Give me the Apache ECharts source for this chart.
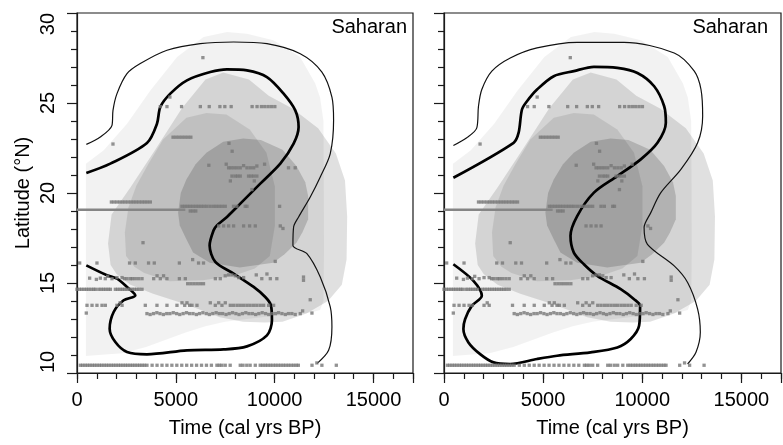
<!DOCTYPE html>
<html><head><meta charset="utf-8">
<script src="https://cdn.jsdelivr.net/npm/echarts@6/dist/echarts.min.js"></script>
<style>html,body{margin:0;padding:0;background:#fff}#c{width:783px;height:445px}</style>
</head><body><div id="c"></div>
<script>
// ---------- axis / text ----------
const xTicksMajor = [0, 5000, 10000, 15000];
const yTicksMajor = [10, 15, 20, 25, 30];
const panelLabel = 'Saharan';
const xTitle = 'Time (cal yrs BP)';
const yTitle = 'Latitude (°N)';

// ---------- density shading (shared by both panels) ----------
const densityOuter = [[450,10.95],[2300,11.1],[3500,11.45],[4500,11.85],[5500,12.25],[6500,12.6],[7500,12.85],[8600,13.0],[9800,13.15],[10800,13.25],[11800,13.35],[12300,13.5],[12470,14.0],[12500,16.8],[12490,20.0],[12470,24.0],[12300,25.3],[12050,26.1],[11290,27.55],[9940,28.48],[8600,28.85],[7590,28.94],[6400,28.67],[5060,27.56],[3710,25.7],[2530,23.85],[1350,22.37],[450,21.63]];
const densityWide = [[1570,17.2],[1700,16.0],[2000,15.5],[2700,14.9],[3848,14.4],[5534,13.8],[7224,13.1],[8400,12.85],[9500,12.8],[10400,12.85],[11610,13.3],[12700,14.0],[13400,14.9],[13640,16.3],[13670,18.7],[13560,20.7],[13100,22.2],[12200,23.6],[10900,24.7],[9700,25.4],[8700,26.3],[7400,26.7],[6500,26.3],[5300,24.7],[3900,22.3],[2700,20.3],[1750,18.8]];
const densityMid = [[2420,17.8],[2480,16.5],[2900,15.9],[3400,15.55],[4690,15.1],[6380,15.15],[7924,15.4],[9000,15.8],[9755,16.5],[10010,18.16],[10010,20.38],[9586,22.24],[8742,23.53],[7560,24.36],[6547,24.45],[5534,24.18],[4354,22.97],[3600,21.6],[3000,20.4],[2600,19.2]];
const densityCore = [[5114,18.9],[5250,20.0],[5534,20.75],[6000,21.6],[6547,22.24],[7400,22.85],[8405,23.03],[9300,22.95],[10400,22.4],[11103,21.5],[11550,20.6],[11695,19.83],[11695,18.54],[11400,17.8],[11103,17.24],[10500,16.6],[9923,16.13],[8237,15.86],[6718,16.13],[5873,16.7],[5534,17.43],[5200,18.2]];

// ---------- contour lines ----------
const leftThick = [[472,15.98],[1517,15.43],[2023,15.24],[2529,14.78],[2950,14.31],[2360,14.04],[1855,13.39],[1652,12.46],[1939,11.72],[2529,11.17],[3540,11.04],[5564,11.26],[7418,11.31],[8599,11.48],[9610,12.09],[9863,12.93],[9813,13.76],[9526,14.22],[8936,14.78],[7924,15.52],[6997,16.17],[6710,17.09],[6913,17.93],[7081,18.2],[7587,18.67],[8262,19.41],[9273,20.52],[10285,21.63],[10959,22.74],[11212,23.67],[11043,24.59],[10453,25.52],[9610,26.44],[8599,26.81],[7587,26.87],[6744,26.72],[5564,26.26],[4721,25.52],[4215,24.78],[4046,23.85],[3540,22.78],[1686,21.63],[472,21.11]];
const leftThin = [[472,22.7],[1180,23.11],[1770,23.76],[1821,24.59],[2023,25.52],[2529,26.63],[3203,27.19],[4552,27.93],[6238,28.3],[7924,28.39],[9610,28.3],[11296,27.74],[12392,26.72],[12898,25.33],[12982,24.04],[12814,22.19],[12308,20.89],[11802,19.78],[11212,18.67],[10959,18.11],[10925,17.09],[11633,16.63],[12308,15.33],[12814,13.67],[12898,12.56],[12730,11.26],[12140,10.52]];
const rightThick = [[473,16.04],[1485,15.12],[1907,14.29],[1401,13.73],[1063,12.99],[979,12.44],[1232,11.7],[1823,11.05],[2498,10.59],[3342,10.5],[4693,10.78],[5705,10.96],[7393,11.15],[8744,11.42],[9419,11.89],[9841,12.62],[9892,13.73],[9588,14.1],[8913,14.66],[7731,15.4],[7056,16.04],[6549,16.69],[6381,17.62],[6718,18.72],[7562,20.02],[8744,20.94],[9925,21.87],[10769,22.79],[11191,23.9],[11107,24.82],[10601,25.93],[9757,26.67],[8744,26.95],[7562,27.01],[6549,26.77],[5537,26.49],[4693,25.75],[4186,25.1],[3933,24.64],[3764,23.35],[3511,22.79],[473,20.85]];
const rightThin = [[473,22.64],[1148,23.07],[1654,23.62],[1739,24.82],[1907,25.75],[2414,26.77],[3342,27.5],[4693,28.06],[6718,28.37],[9081,28.37],[11613,27.78],[12626,26.77],[12964,25.75],[13048,24.27],[12795,22.79],[11951,21.31],[10938,20.02],[10432,18.91],[10094,18.08],[10263,17.15],[11613,15.95],[12289,15.03],[12795,13.55],[12930,12.26],[12711,11.15],[12289,10.5]];

// ---------- site records ----------
const rangeLine = [[0,19.07],[5480,19.07]];
const sitesNorth = [[6370,27.52],[4700,25.33],[4215,24.8],[4552,24.8],[5290,24.8],[6240,24.8],[6690,24.8],[7230,24.8],[7480,24.8],[7800,24.8],[8860,24.8],[9110,24.8],[9330,24.8],[9500,24.8],[9670,24.8],[9840,24.8],[10010,24.8],
 [4860,23.1],[5010,23.1],[5160,23.1],[5310,23.1],[5460,23.1],[5610,23.1],[5760,23.1],[1820,22.72],[7690,22.76],[7850,22.32],
 [6670,21.54],[7550,21.6],[7670,21.4],[7800,21.4],[7950,21.4],[8100,21.4],[8260,21.4],[8430,21.52],[8600,21.4],[8770,21.4],[8940,21.4],[9100,21.5],[9490,21.6],
 [7840,20.94],[8010,20.94],[8130,20.94],[8260,20.94],[8680,20.94],[8810,20.94],[8940,20.94],[9100,20.94],[7760,20.67],[8970,20.67],[8850,20.19]];
const sitesMid = [[1740,19.5],[1880,19.5],[2020,19.5],[2160,19.5],[2300,19.5],[2440,19.5],[2580,19.5],[2720,19.5],[2860,19.5],[3000,19.5],[3140,19.5],[3280,19.5],[3420,19.5],[3560,19.5],[3710,19.5],
 [5310,19.26],[5450,19.26],[5590,19.26],[5730,19.26],[5870,19.26],[6010,19.26],[6150,19.26],[6290,19.26],[6430,19.26],[6570,19.26],[6740,19.26],[6910,19.26],[7050,19.26],[7200,19.26],[7350,19.26],[7500,19.26],[7920,19.26],[8090,19.26],[8510,19.26],[8600,19.26],
 [5730,19.0],[5870,19.0],[6010,19.0],[7165,18.17],[7418,18.17],[7671,18.17],[7924,18.17],[10285,18.17],[10420,18.03],[3340,17.24],
 [135,16.11],[1010,16.11],[2660,16.11],[2950,16.11],[3620,16.11],[3910,16.11],[5180,16.11],[5850,16.3],[6150,16.11],[6400,16.11],[10030,16.2]];
const sitesLower = [[640,15.27],[980,15.2],[1180,15.27],[1430,15.24],[1550,15.37],[1770,15.24],[2020,15.3],[2280,15.3],[2400,15.24],[2530,15.24],[2700,15.24],[2800,15.24],[2950,15.24],[3120,15.24],[3290,15.24],[3880,15.24],[4050,15.4],[4215,15.24],[4380,15.4],[4550,15.24],[5180,15.24],[5480,15.24],[5600,14.96],[5760,14.96],[5920,14.96],[6080,14.96],[6240,14.96],[6400,14.96],[7000,15.24],[7250,15.24],[7500,15.4],[7670,15.45],[7840,15.45],[8010,15.4],[8180,15.3],[8430,15.3],[9070,15.45],[9350,15.24],[9610,15.5],[9780,15.24],[10110,15.24],[11460,15.33],[11460,15.15],
 [0,14.65],[120,14.65],[240,14.65],[360,14.65],[480,14.65],[600,14.65],[720,14.65],[840,14.65],[930,14.65],[1100,14.65],[1220,14.65],[1340,14.65],[1460,14.65],[1580,14.65],[1690,14.65],[1940,14.65],[2060,14.65],[2180,14.65],[2300,14.65],[2420,14.65],[2540,14.65],[2660,14.65],[2780,14.65],[2900,14.65],[3020,14.65],[3140,14.65],[3290,14.65],
 [506,13.76],[760,13.76],[1010,13.76],[1265,13.76],[1433,13.76],[2020,13.76],[2180,13.9],[2280,13.76],[3456,13.76],[4046,13.76],[4552,13.76],[5058,13.76],[5311,13.9],[5450,13.76],[5564,13.9],[5700,13.76],[5817,13.76],[6070,13.76],[6744,13.9],[6997,13.76],[7170,13.9],[7334,13.76],[7503,13.9],[7756,13.76],[7924,13.76],[8100,13.76],[8262,13.76],[8430,13.76],[8600,13.76],[8760,13.76],[8936,13.76],[9100,13.76],[9273,13.76],[9442,13.76],[9695,13.76],[9947,13.76],[11800,14.07]];
const sitesSouth = [[470,13.33],[3540,13.3],[3700,13.25],[3870,13.3],[4040,13.35],[4200,13.3],[4370,13.25],[4540,13.3],[4700,13.3],[4870,13.35],[5040,13.3],[5200,13.25],[5370,13.3],[5540,13.35],[5700,13.3],[5870,13.3],[6040,13.25],[6200,13.3],[6370,13.35],[6540,13.3],[6700,13.25],[6870,13.3],[7040,13.35],[7200,13.3],[7370,13.3],[7540,13.25],[7700,13.3],[7870,13.35],[8040,13.3],[8200,13.25],[8370,13.3],[8540,13.35],[8700,13.3],[8870,13.3],[9040,13.25],[9200,13.3],[9370,13.35],[9540,13.3],[9700,13.25],[9870,13.3],[10040,13.3],[10200,13.35],[10370,13.3],[10540,13.25],[10700,13.3],[10870,13.3],[11040,13.25],[11296,13.3],[11415,13.45],[11887,13.33],
 [170,10.43],[290,10.43],[410,10.43],[530,10.43],[650,10.43],[770,10.43],[890,10.43],[1010,10.43],[1130,10.43],[1250,10.43],[1370,10.43],[1490,10.43],[1610,10.43],[1730,10.43],[1850,10.43],[1970,10.43],[2090,10.43],[2210,10.43],[2330,10.43],[2450,10.43],[2570,10.43],[2690,10.43],[2810,10.43],[2930,10.43],[3050,10.43],[3170,10.43],[3290,10.43],[3410,10.43],[3540,10.43],
 [3800,10.43],[4050,10.43],[4300,10.43],[4550,10.43],[4800,10.43],[5050,10.43],[5300,10.43],[5550,10.43],[5800,10.43],[6050,10.43],[6300,10.43],[6550,10.43],[6800,10.43],[7080,10.43],[7200,10.43],[7330,10.43],[7500,10.43],[7750,10.43],[8260,10.43],[8400,10.43],[8590,10.43],[8760,10.43],[9020,10.43],[9270,10.43],[9400,10.43],[9530,10.43],[9660,10.43],[9790,10.43],[9920,10.43],[10050,10.43],[10180,10.43],[10310,10.43],[10440,10.43],[10570,10.43],[10700,10.43],[10830,10.43],[10960,10.43],[11090,10.43],[11200,10.43],[11890,10.43],[12135,10.56],[12390,10.43],[13120,10.43]];
const sitesLeftOnly = [[10700,21.4],[11040,21.4],[8430,18.17],[8733,18.17],[9020,18.17],[10250,19.26]];

// ---------- chart ----------
const FONT = 'Liberation Sans, Arial, sans-serif';
const axisCol = '#1a1a1a';
const textCol = '#000';
const grids = [
  {left: 77, top: 13, width: 336, height: 360},
  {left: 444, top: 13, width: 337, height: 360}
];
const xAxes = [], yAxes = [], series = [];
grids.forEach((g, i) => {
  g.show = true; g.borderColor = axisCol; g.borderWidth = 1.2; g.backgroundColor = 'transparent';
  g.outerBoundsMode = 'none'; g.containLabel = false;
  xAxes.push({gridIndex: i, type: 'value', position: 'bottom', min: 0, max: 17000, interval: 1000,
    axisLine: {show: false}, axisTick: {show: true, length: 6, lineStyle: {color: axisCol, width: 1.2}},
    axisLabel: {show: false}, splitLine: {show: false}});
  xAxes.push({gridIndex: i, type: 'value', position: 'bottom', min: 0, max: 17000, interval: 5000,
    axisLine: {show: true, lineStyle: {color: axisCol, width: 1.2}},
    axisTick: {show: true, length: 10, lineStyle: {color: axisCol, width: 1.2}},
    axisLabel: {show: true, fontSize: 20, fontFamily: FONT, color: textCol, margin: 17,
      formatter: v => xTicksMajor.includes(v) ? String(v) : ''},
    splitLine: {show: false},
    name: xTitle, nameLocation: 'middle', nameGap: 45,
    nameTextStyle: {fontSize: 20, fontFamily: FONT, color: textCol}});
  yAxes.push({gridIndex: i, type: 'value', position: 'left', min: 10, max: 30, interval: 5,
    axisLine: {show: true, lineStyle: {color: axisCol, width: 1.2}},
    axisTick: {show: true, length: 10, lineStyle: {color: axisCol, width: 1.2}},
    minorTick: {show: true, splitNumber: 5, length: 6, lineStyle: {color: axisCol, width: 1.2}},
    axisLabel: {show: i === 0, rotate: 90, fontSize: 20, fontFamily: FONT, color: textCol, margin: 19,
      alignMinLabel: 'left', alignMaxLabel: 'right',
      formatter: v => yTicksMajor.includes(v) ? String(v) : ''},
    splitLine: {show: false},
    name: i === 0 ? yTitle : '', nameLocation: 'middle', nameGap: 44,
    nameTextStyle: {fontSize: 20, fontFamily: FONT, color: textCol}});
  const xi = i * 2 + 1, yi = i;
  const shades = [[densityOuter, 0.05], [densityWide, 0.12], [densityMid, 0.09], [densityCore, 0.16]];
  shades.forEach(([poly, a]) => {
    series.push({type: 'custom', xAxisIndex: xi, yAxisIndex: yi, data: [0], silent: true, z: 1,
      renderItem: (params, api) => ({type: 'polygon', shape: {points: poly.map(p => api.coord(p))},
        style: {fill: 'rgba(0,0,0,' + a + ')', stroke: null}})});
  });
  const thick = i === 0 ? leftThick : rightThick;
  const thin = i === 0 ? leftThin : rightThin;
  series.push({type: 'line', xAxisIndex: xi, yAxisIndex: yi, data: thin, showSymbol: false, smooth: 0.3,
    lineStyle: {color: '#111', width: 1.2}, z: 3, silent: true});
  series.push({type: 'line', xAxisIndex: xi, yAxisIndex: yi, data: thick, showSymbol: false, smooth: 0.3,
    lineStyle: {color: '#000', width: 2.7}, z: 3, silent: true});
  series.push({type: 'line', xAxisIndex: xi, yAxisIndex: yi, data: rangeLine, showSymbol: false,
    lineStyle: {color: '#858585', width: 2.3}, z: 4, silent: true});
  const pts = sitesNorth.concat(sitesMid, sitesLower, sitesSouth, i === 0 ? sitesLeftOnly : []);
  series.push({type: 'scatter', xAxisIndex: xi, yAxisIndex: yi, data: pts, symbol: 'rect', symbolSize: 3.3,
    itemStyle: {color: '#777'}, z: 5, silent: true});
});

const chart = echarts.init(document.getElementById('c'), null, {renderer: 'canvas'});
chart.setOption({
  animation: false,
  backgroundColor: '#fff',
  title: [
    {text: panelLabel, right: 376, top: 17, padding: 0, textStyle: {fontSize: 20, fontWeight: 'normal', fontFamily: FONT, color: textCol}},
    {text: panelLabel, right: 15, top: 17, padding: 0, textStyle: {fontSize: 20, fontWeight: 'normal', fontFamily: FONT, color: textCol}}
  ],
  grid: grids, xAxis: xAxes, yAxis: yAxes, series: series
});
</script></body></html>
